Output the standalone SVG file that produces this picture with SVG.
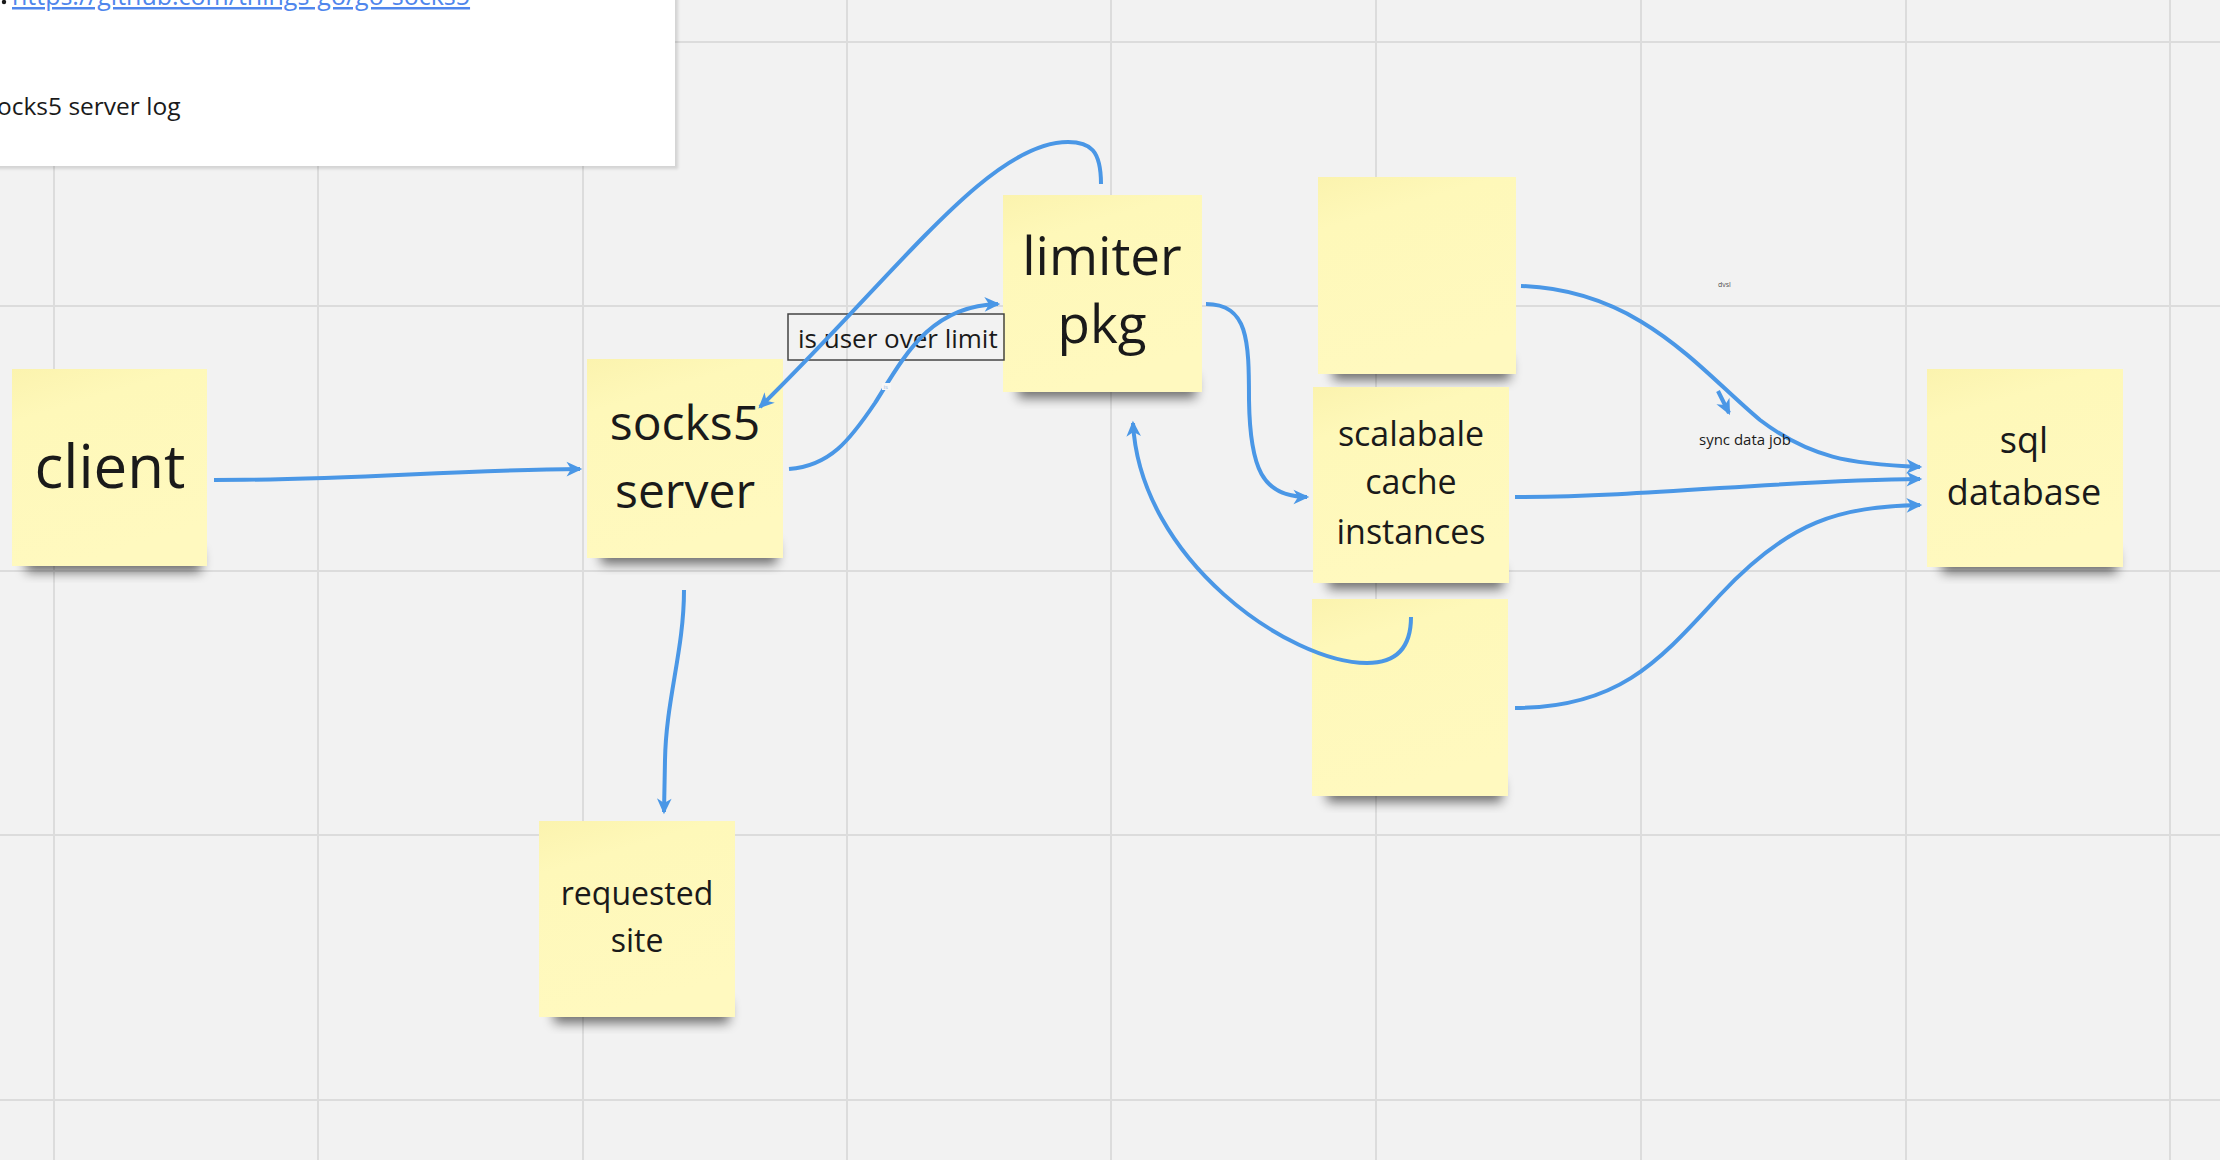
<svg xmlns="http://www.w3.org/2000/svg" width="2220" height="1160" viewBox="0 0 2220 1160">
  <defs>
    <style>
      .grid line { stroke: #dcdcdc; stroke-width: 2; }
      .note { fill: url(#noteFill); }
      .shadow { fill: #000; opacity: 0.55; filter: url(#blur); }
      .ntext { font-family: "Open Sans", "Liberation Sans", sans-serif; fill: #1a1a1a; text-anchor: middle; }
      .conn path { fill: none; stroke: #4a97e6; stroke-width: 4; marker-end: url(#arrow); }
      .label { font-family: "Open Sans", "Liberation Sans", sans-serif; fill: #1a1a1a; }
    </style>
    <linearGradient id="noteFill" x1="0" y1="0" x2="0.3" y2="1">
      <stop offset="0" stop-color="#fbf3ae"/>
      <stop offset="0.25" stop-color="#fef8b9"/>
      <stop offset="1" stop-color="#fff9bf"/>
    </linearGradient>
    <filter id="blur" x="-20%" y="-50%" width="140%" height="200%">
      <feGaussianBlur stdDeviation="6"/>
    </filter>
    <filter id="boxShadow" x="-5%" y="-5%" width="110%" height="120%">
      <feGaussianBlur stdDeviation="1.5"/>
    </filter>
    <marker id="arrow" viewBox="0 0 16 16" refX="13" refY="8" markerWidth="18" markerHeight="18" markerUnits="userSpaceOnUse" orient="auto">
      <path d="M1,1.5 L15,8 L1,14.5 L5,8 z" fill="#4a97e6"/>
    </marker>
  </defs>

  <rect x="0" y="0" width="2220" height="1160" fill="#f2f2f2"/>

  <g class="grid">
    <line x1="54" y1="0" x2="54" y2="1160"/>
    <line x1="318" y1="0" x2="318" y2="1160"/>
    <line x1="583" y1="0" x2="583" y2="1160"/>
    <line x1="847" y1="0" x2="847" y2="1160"/>
    <line x1="1111" y1="0" x2="1111" y2="1160"/>
    <line x1="1376" y1="0" x2="1376" y2="1160"/>
    <line x1="1641" y1="0" x2="1641" y2="1160"/>
    <line x1="1906" y1="0" x2="1906" y2="1160"/>
    <line x1="2170" y1="0" x2="2170" y2="1160"/>
    <line x1="0" y1="42" x2="2220" y2="42"/>
    <line x1="0" y1="306" x2="2220" y2="306"/>
    <line x1="0" y1="571" x2="2220" y2="571"/>
    <line x1="0" y1="835" x2="2220" y2="835"/>
    <line x1="0" y1="1100" x2="2220" y2="1100"/>
  </g>

  <g id="doc-box">
    <rect x="-4" y="-4" width="682" height="173" fill="#000" opacity="0.12" filter="url(#boxShadow)"/>
    <rect x="-4" y="-4" width="679" height="170" fill="#ffffff"/>
    <circle cx="4" cy="2" r="2.2" fill="#1a1a1a"/>
    <text x="12" y="5" font-family="'Open Sans', 'Liberation Sans', sans-serif" font-size="25" fill="#4f86ec" text-decoration="underline">https://github.com/things-go/go-socks5</text>
    <text x="-3" y="115" class="label" font-size="24.5">ocks5 server log</text>
  </g>

  <g id="client">
    <rect class="shadow" x="26" y="550" width="175" height="22"/>
    <rect class="note" x="12" y="369" width="195" height="197"/>
    <text class="ntext" x="110" y="488" font-size="60">client</text>
  </g>

  <g id="socks5-server">
    <rect class="shadow" x="601" y="542" width="176" height="22"/>
    <rect class="note" x="587" y="359" width="196" height="199"/>
    <text class="ntext" x="685" y="440" font-size="48">socks5</text>
    <text class="ntext" x="685" y="508" font-size="48">server</text>
  </g>

  <g id="limiter-pkg">
    <rect class="shadow" x="1018" y="376" width="178" height="22"/>
    <rect class="note" x="1003" y="195" width="199" height="197"/>
    <text class="ntext" x="1102" y="275" font-size="53">limiter</text>
    <text class="ntext" x="1102" y="343" font-size="53">pkg</text>
  </g>

  <g id="cache-top">
    <rect class="shadow" x="1333" y="358" width="177" height="22"/>
    <rect class="note" x="1318" y="177" width="198" height="197"/>
  </g>

  <g id="cache-instances">
    <rect class="shadow" x="1328" y="567" width="175" height="22"/>
    <rect class="note" x="1313" y="387" width="196" height="196"/>
    <text class="ntext" x="1411" y="446" font-size="34">scalabale</text>
    <text class="ntext" x="1411" y="494" font-size="34">cache</text>
    <text class="ntext" x="1411" y="544" font-size="34">instances</text>
  </g>

  <g id="cache-bottom">
    <rect class="shadow" x="1327" y="780" width="175" height="22"/>
    <rect class="note" x="1312" y="599" width="196" height="197"/>
  </g>

  <g id="sql-database">
    <rect class="shadow" x="1942" y="551" width="175" height="22"/>
    <rect class="note" x="1927" y="369" width="196" height="198"/>
    <text class="ntext" x="2024" y="453" font-size="36">sql</text>
    <text class="ntext" x="2024" y="505" font-size="36">database</text>
  </g>

  <g id="requested-site">
    <rect class="shadow" x="554" y="1001" width="175" height="22"/>
    <rect class="note" x="539" y="821" width="196" height="196"/>
    <text class="ntext" x="637" y="905" font-size="32">requested</text>
    <text class="ntext" x="637" y="952" font-size="32">site</text>
  </g>

  <g id="label-is-user-over-limit">
    <rect x="788" y="314" width="216" height="46" fill="none" stroke="#444" stroke-width="1.5"/>
    <text x="798" y="348" class="label" font-size="26">is user over limit</text>
  </g>

  <g class="conn">
    <path d="M 214 480 C 350 480 450 470 580 469"/>
    <path d="M 684 590 C 684 650 666 700 665 760 L 664 812"/>
    <path d="M 789 469 C 830 466 850 440 875 403 C 905 355 930 306 998 304"/>
    <path d="M 1101 184 C 1101 150 1090 142 1068 142 C 990 142 900 270 760 407"/>
    <path d="M 1206 304 C 1248 304 1249 340 1249 400 C 1250 468 1262 497 1307 497"/>
    <path d="M 1411 617 C 1411 648 1396 663 1367 663 C 1290 663 1140 560 1133 423"/>
    <path d="M 1521 286 C 1640 290 1700 370 1760 420 C 1810 458 1850 464 1920 467"/>
    <path d="M 1515 497 C 1650 497 1780 480 1920 479"/>
    <path d="M 1515 708 C 1620 708 1660 660 1720 595 C 1790 520 1840 507 1920 505"/>
    <path d="M 1718 391 L 1729 413"/>
  </g>

  <g id="tiny-labels">
    <rect x="882" y="383" width="9" height="7" fill="#f7f7f7"/>
    <text x="883.5" y="389" font-family="'Open Sans', 'Liberation Sans', sans-serif" font-size="6" fill="#9dbbe3">is</text>
    <text x="1718" y="287" font-family="'Open Sans', 'Liberation Sans', sans-serif" font-size="7" fill="#555">dvsl</text>
    <text x="1699" y="445" class="label" font-size="15" fill="#333">sync data job</text>
  </g>
</svg>
